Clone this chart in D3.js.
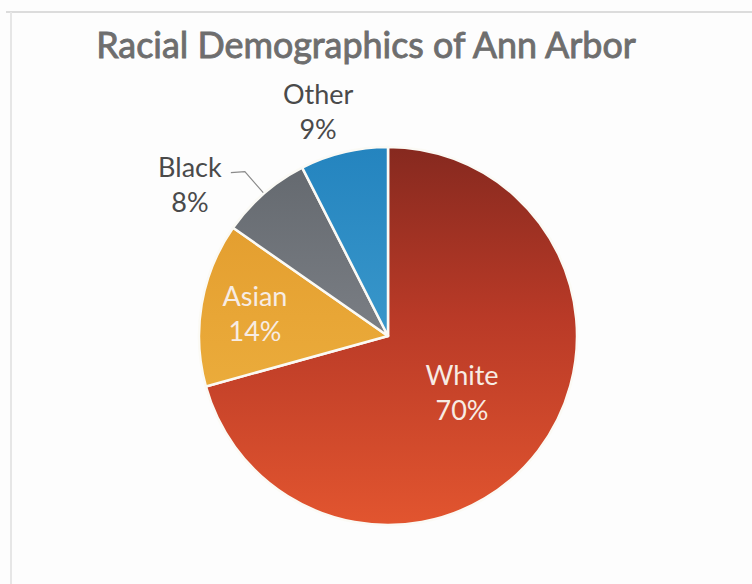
<!DOCTYPE html>
<html>
<head>
<meta charset="utf-8">
<script src="https://cdn.jsdelivr.net/npm/d3@7"></script>
<style>
  html, body { margin: 0; padding: 0; background: #fdfdfd; }
  svg { display: block; }
</style>
</head>
<body>
<svg id="chart" width="752" height="584"></svg>
<script>
// ---- data ----
const categories = ["White", "Asian", "Black", "Other"];
const shares = [70.7, 14.0, 7.8, 7.5];          // slice sizes
const percentLabels = ["70%", "14%", "8%", "9%"]; // labels as printed
const title = "Racial Demographics of Ann Arbor";

// ---- styling / layout ----
const W = 752, H = 584;
const cx = 388, cy = 336, R = 189;
const colors = {
  White: ["#86291f", "#b93a27", "#e2552f"],
  Asian: ["#e0982a", "#e8a636", "#efb645"],
  Black: ["#62676d", "#787c82", "#95999e"],
  Other: ["#2484bf", "#3795c9", "#6cb6d8"]
};
const labelLayout = {
  White: { r: 93, inside: true, dx: 0 },
  Asian: { r: 135, inside: true, dx: 0 },
  Black: { r: 218, inside: false, leader: true },
  Other: { r: 231, inside: false, dx: -16 }
};

const svg = d3.select("#chart");
svg.append("rect").attr("width", W).attr("height", H).attr("fill", "#fdfdfd");

// card frame
svg.append("line").attr("x1", 6).attr("x2", W).attr("y1", 12).attr("y2", 12)
  .attr("stroke", "#dcdcdc").attr("stroke-width", 2);
svg.append("line").attr("x1", 11).attr("x2", 11).attr("y1", 12).attr("y2", H)
  .attr("stroke", "#e6e6e6").attr("stroke-width", 2);

// title
const t = svg.append("text")
  .attr("x", 366).attr("y", 58)
  .attr("text-anchor", "middle")
  .attr("font-family", "Lato, 'Open Sans', sans-serif")
  .attr("font-weight", 400)
  .attr("font-size", 33)
  .attr("fill", "#6e6e6e")
  .attr("stroke", "#6e6e6e")
  .attr("stroke-width", 0.9)
  .text(title);
const tl = t.node().getComputedTextLength();
t.attr("font-size", 33 * 540 / tl);

// gradients (in the pie group's local coordinates)
const defs = svg.append("defs");
categories.forEach(c => {
  const gr = defs.append("linearGradient")
    .attr("id", "g-" + c)
    .attr("gradientUnits", "userSpaceOnUse")
    .attr("x1", 0).attr("x2", 0)
    .attr("y1", -R).attr("y2", R);
  gr.append("stop").attr("offset", "0%").attr("stop-color", colors[c][0]);
  gr.append("stop").attr("offset", "45%").attr("stop-color", colors[c][1]);
  gr.append("stop").attr("offset", "100%").attr("stop-color", colors[c][2]);
});

const data = categories.map((c, i) => ({ name: c, value: shares[i], label: percentLabels[i] }));
const pie = d3.pie().sort(null).value(d => d.value);
const arcs = pie(data);
const arc = d3.arc().innerRadius(0).outerRadius(R);

const g = svg.append("g").attr("transform", `translate(${cx},${cy})`);
g.selectAll("path.slice").data(arcs).join("path")
  .attr("class", "slice")
  .attr("d", arc)
  .attr("fill", d => `url(#g-${d.data.name})`)
  .attr("stroke", "#fbfaf5")
  .attr("stroke-width", 2.5)
  .attr("stroke-linejoin", "round");

const font = "Lato, 'Open Sans', sans-serif";
function polar(r, a) { return [Math.sin(a) * r, -Math.cos(a) * r]; }

arcs.forEach(d => {
  const L = labelLayout[d.data.name];
  const mid = (d.startAngle + d.endAngle) / 2;
  let x, y;
  if (L.leader) {
    const p0 = polar(R + 1, mid);
    const p1 = polar(L.r, mid);
    const p2 = [p1[0] - 14, p1[1] + 1];
    g.append("path")
      .attr("d", d3.line()([p0, p1, p2]))
      .attr("fill", "none").attr("stroke", "#8a8a8a").attr("stroke-width", 1.2);
    x = p2[0] - 41;
    y = p2[1] + 11;
  } else {
    const p = polar(L.r, mid);
    x = p[0] + (L.dx || 0);
    y = p[1];
  }
  const txt = g.append("text")
    .attr("text-anchor", "middle")
    .attr("font-family", font)
    .attr("font-size", 27)
    .attr("fill", L.inside ? "#f7ece4" : "#4a4a4a");
  txt.append("tspan").attr("x", x).attr("y", y - 7).text(d.data.name);
  txt.append("tspan").attr("x", x).attr("y", y + 28).text(d.data.label);
});
</script>
</body>
</html>
